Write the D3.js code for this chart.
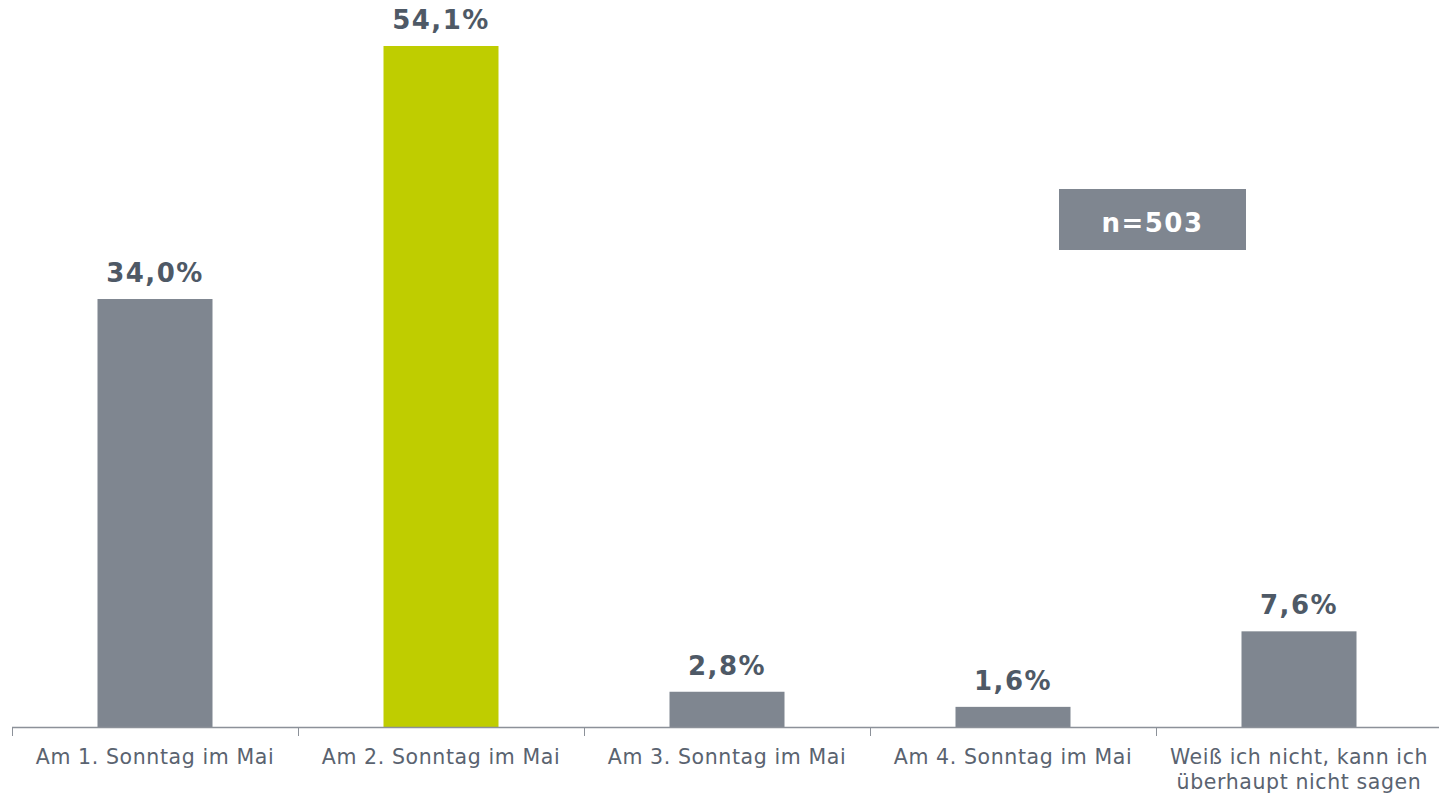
<!DOCTYPE html>
<html>
<head>
<meta charset="utf-8">
<script src="https://cdn.jsdelivr.net/npm/d3@7"></script>
<style>
  body { margin: 0; background: #fff; }
  svg { display: block; font-family: "DejaVu Sans", Verdana, sans-serif; }
</style>
</head>
<body>
<div id="chart"></div>
<script>
// Chart data
const categories = [
    ['Am 1. Sonntag im Mai'],
    ['Am 2. Sonntag im Mai'],
    ['Am 3. Sonntag im Mai'],
    ['Am 4. Sonntag im Mai'],
    ['Weiß ich nicht, kann ich', 'überhaupt nicht sagen']
];
const values = [34.0, 54.1, 2.8, 1.6, 7.6];
const highlight = [false, true, false, false, false];
const sampleNote = 'n=503';

const width = 1439, height = 794;
const margin = { top: 46, right: 0, bottom: 67, left: 12 };
const plotWidth = 1430;   // category bands run slightly past the right edge
const innerHeight = height - margin.top - margin.bottom;

const svg = d3.select('#chart').append('svg')
    .attr('width', width)
    .attr('height', height);

const g = svg.append('g')
    .attr('transform', `translate(${margin.left},${margin.top})`);

// Scales
const xScale = d3.scaleBand()
    .domain(d3.range(values.length))
    .range([0, plotWidth]);

const yScale = d3.scaleLinear()
    .domain([0, 54.1])
    .range([innerHeight, 0]);

const step = xScale.step();
const barWidth = 115;
const center = i => xScale(i) + step / 2;

// Bars
g.selectAll('.bar')
    .data(values)
    .enter()
    .append('rect')
    .attr('class', 'bar')
    .attr('x', (d, i) => center(i) - barWidth / 2)
    .attr('y', d => yScale(d))
    .attr('width', barWidth)
    .attr('height', d => innerHeight - yScale(d))
    .attr('fill', (d, i) => highlight[i] ? '#bfcd00' : '#7f8690');

// Value labels
g.selectAll('.value')
    .data(values)
    .enter()
    .append('text')
    .attr('x', (d, i) => center(i))
    .attr('y', d => yScale(d) - 17)
    .attr('text-anchor', 'middle')
    .attr('font-size', 26)
    .attr('font-weight', 'bold')
    .attr('letter-spacing', 1.5)
    .attr('fill', '#4e5966')
    .text(d => d.toFixed(1).replace('.', ',') + '%');

// Axis line and ticks
g.append('line')
    .attr('x1', 0).attr('x2', width - margin.left)
    .attr('y1', innerHeight + 0.5).attr('y2', innerHeight + 0.5)
    .attr('stroke', '#8c9199')
    .attr('stroke-width', 1.5);

g.selectAll('.tick')
    .data(d3.range(values.length))
    .enter()
    .append('line')
    .attr('x1', i => Math.round(xScale(i)) + 0.5)
    .attr('x2', i => Math.round(xScale(i)) + 0.5)
    .attr('y1', innerHeight)
    .attr('y2', innerHeight + 9)
    .attr('stroke', '#8c9199')
    .attr('stroke-width', 1);

// Category labels
const labels = g.selectAll('.cat')
    .data(categories)
    .enter()
    .append('text')
    .attr('text-anchor', 'middle')
    .attr('font-size', 20.5)
    .attr('letter-spacing', 0.6)
    .attr('fill', '#5a6370');

labels.selectAll('tspan')
    .data((d, i) => d.map(line => ({ line, i })))
    .enter()
    .append('tspan')
    .attr('x', d => center(d.i))
    .attr('y', (d, j) => innerHeight + 37 + j * 25)
    .text(d => d.line);

// Sample size box
const note = svg.append('g').attr('transform', 'translate(1059,189)');
note.append('rect')
    .attr('width', 187)
    .attr('height', 61)
    .attr('fill', '#7f8690');
note.append('text')
    .attr('x', 187 / 2)
    .attr('y', 43)
    .attr('text-anchor', 'middle')
    .attr('font-size', 26)
    .attr('font-weight', 'bold')
    .attr('letter-spacing', 1.5)
    .attr('fill', '#fff')
    .text(sampleNote);
</script>
</body>
</html>
